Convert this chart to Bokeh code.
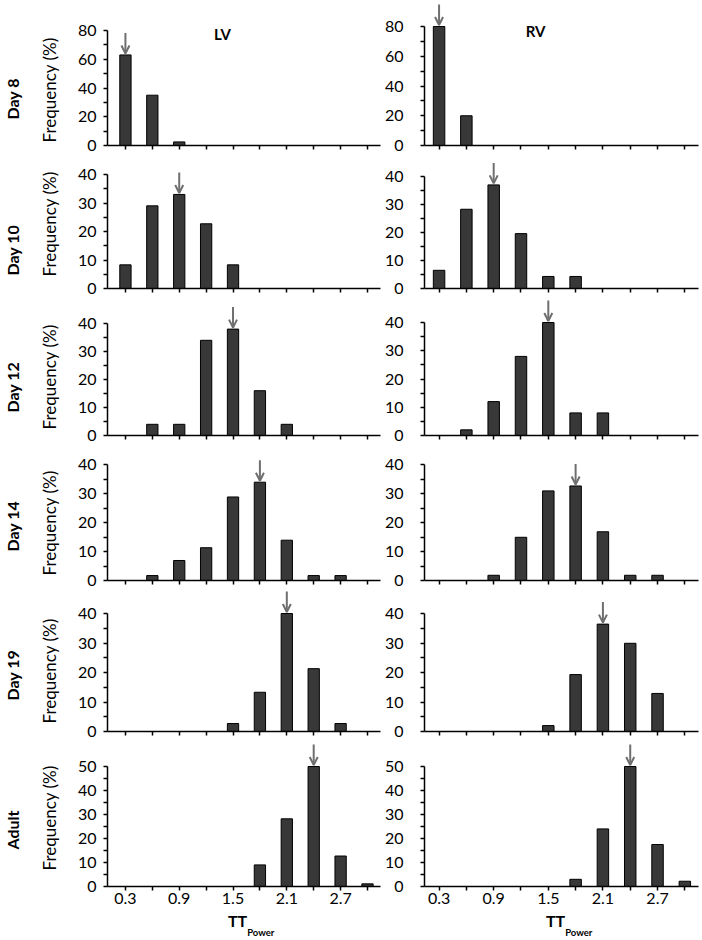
from bokeh.plotting import figure
from bokeh.layouts import column, row
from bokeh.models import Range1d, FixedTicker, ColumnDataSource, Arrow, OpenHead, Label, Title, Div
from bokeh.embed import file_html
from bokeh.resources import INLINE

# ---------------- data ----------------
x_vals = [0.3, 0.6, 0.9, 1.2, 1.5, 1.8, 2.1, 2.4, 2.7, 3.0]
x_labels = {0.3: "0.3", 0.6: "", 0.9: "0.9", 1.2: "", 1.5: "1.5", 1.8: "", 2.1: "2.1", 2.4: "", 2.7: "2.7", 3.0: ""}
row_labels = ["Day 8", "Day 10", "Day 12", "Day 14", "Day 19", "Adult"]
panel_titles = ["LV", "RV"]
y_label = "Frequency (%)"
y_max = [80, 40, 40, 40, 40, 50]

lv_day8 = [63, 35, 2.5, 0, 0, 0, 0, 0, 0, 0]
rv_day8 = [80, 20, 0, 0, 0, 0, 0, 0, 0, 0]
lv_day10 = [8.3, 29, 33, 22.7, 8.3, 0, 0, 0, 0, 0]
rv_day10 = [6.5, 28.3, 37, 19.6, 4.3, 4.3, 0, 0, 0, 0]
lv_day12 = [0, 4, 4, 34, 38, 16, 4, 0, 0, 0]
rv_day12 = [0, 2, 12, 28, 40, 8, 8, 0, 0, 0]
lv_day14 = [0, 1.7, 6.9, 11.3, 28.8, 33.9, 13.9, 1.7, 1.7, 0]
rv_day14 = [0, 0, 1.8, 14.9, 30.9, 32.6, 16.8, 1.8, 1.8, 0]
lv_day19 = [0, 0, 0, 0, 2.7, 13.3, 40, 21.3, 2.7, 0]
rv_day19 = [0, 0, 0, 0, 2, 19.3, 36.4, 29.9, 12.9, 0]
lv_adult = [0, 0, 0, 0, 0, 9, 28.2, 50, 12.7, 1.1]
rv_adult = [0, 0, 0, 0, 0, 3, 24, 50, 17.5, 2.2]

lv_series = [lv_day8, lv_day10, lv_day12, lv_day14, lv_day19, lv_adult]
rv_series = [rv_day8, rv_day10, rv_day12, rv_day14, rv_day19, rv_adult]

# ---------------- layout (pixels) ----------------
FONT = "Lato"
fig_top = [0, 155, 298, 445, 590, 741]      # page y of each row's top
zero_y = [145, 288, 435, 580, 731, 886]     # page y of the x axis
max_y = {True: [30, 174, 323, 464, 613, 766], False: [26, 176, 322, 464, 613, 766]}
bottom_borders = [10, 10, 10, 10, 10, 26]
day_offsets = [26, 13, 23, 29, 31, 37]
freq_offsets = [3, 12, 6, 5, 8, 16]

GEOM = {True: dict(W=381, BL=100, BR=1, XR=(0.10, 3.145)),
        False: dict(W=319, BL=41, BR=2, XR=(0.14, 3.15))}
BAR_W = 0.126
ARROW_COLOR = "#6f6f6f"


def y_ticks(ymax):
    step = 20 if ymax == 80 else 10
    majors = list(range(0, ymax + 1, step))
    minors = [m + step / 2 for m in majors[:-1]]
    return majors, minors


def panel(vals, r, left):
    g = GEOM[left]
    ymax = y_max[r]
    fh = zero_y[r] - fig_top[r]
    per_px = ymax / (zero_y[r] - max_y[left][r])
    p = figure(
        width=g["W"], height=fh + bottom_borders[r],
        x_range=Range1d(*g["XR"]), y_range=Range1d(0, fh * per_px),
        output_backend="svg", toolbar_location=None,
        min_border_left=g["BL"], min_border_right=g["BR"],
        min_border_top=0, min_border_bottom=bottom_borders[r],
    )
    p.outline_line_color = None
    p.xgrid.visible = False
    p.ygrid.visible = False

    src = ColumnDataSource(dict(x=x_vals, top=vals))
    p.vbar(x="x", top="top", width=BAR_W, source=src,
           fill_color="#383838", line_color="black", line_width=1)

    # modal arrow
    i = vals.index(max(vals))
    asrc = ColumnDataSource(dict(x0=[x_vals[i]], y0=[vals[i] + 22 * per_px],
                                 x1=[x_vals[i]], y1=[vals[i] + 1.5 * per_px]))
    p.add_layout(Arrow(x_start="x0", y_start="y0", x_end="x1", y_end="y1", source=asrc,
                       line_color=ARROW_COLOR, line_width=2,
                       end=OpenHead(size=8, line_color=ARROW_COLOR, line_width=2)))

    # x axis
    xa = p.xaxis[0]
    xa.ticker = FixedTicker(ticks=x_vals)
    xa.major_label_overrides = x_labels
    xa.axis_line_width = 1.5
    xa.axis_line_color = "black"
    xa.major_tick_line_width = 1.5
    xa.major_tick_line_color = "black"
    xa.major_tick_in = 0
    xa.major_tick_out = 4
    xa.minor_tick_line_color = None
    xa.major_label_text_font = FONT
    xa.major_label_text_font_size = "16px"
    if r == len(y_max) - 1:
        xa.major_label_text_color = "black"
        xa.major_label_standoff = 2
    else:
        xa.major_label_text_color = None
        xa.major_label_standoff = 0

    # y axis
    ya = p.yaxis[0]
    majors, minors = y_ticks(ymax)
    ya.bounds = (0, ymax)
    ya.ticker = FixedTicker(ticks=majors, minor_ticks=minors)
    ya.axis_line_width = 1.5
    ya.axis_line_color = "black"
    ya.major_tick_line_width = 1.5
    ya.major_tick_line_color = "black"
    ya.minor_tick_line_width = 1.5
    ya.minor_tick_line_color = "black"
    ya.major_tick_in = 0
    ya.major_tick_out = 4
    ya.minor_tick_in = 0
    ya.minor_tick_out = 4
    ya.major_label_text_font = FONT
    ya.major_label_text_font_size = "16px"
    ya.major_label_text_color = "black"
    ya.major_label_standoff = 7 if left else 17
    if left:
        p.add_layout(Title(text=y_label, align="left", offset=freq_offsets[r],
                           vertical_align="bottom", standoff=30,
                           text_font=FONT, text_font_size="17px", text_font_style="normal",
                           text_color="black"), "left")
        p.add_layout(Title(text=row_labels[r], align="left", offset=day_offsets[r],
                           vertical_align="bottom", standoff=0,
                           text_font=FONT, text_font_size="16px", text_font_style="bold",
                           text_color="black"), "left")

    if r == 0:
        lx = 1.383 if left else 1.361
        ly_px = 33 if left else 30
        p.add_layout(Label(x=lx, y=ymax - (ly_px - max_y[left][r]) * per_px,
                           text=panel_titles[0] if left else panel_titles[1],
                           text_font=FONT, text_font_size="15px", text_font_style="bold",
                           text_align="center", text_baseline="middle", text_color="black"))
    return p


def tt_div(width, pad):
    html = ('<div style="padding-left:%dpx; font-family:Lato; font-weight:bold; font-size:16px; '
            'line-height:18px; color:#000; white-space:nowrap;">TT<sub style="font-size:9.5px; '
            'vertical-align:-9px; line-height:0;">Power</sub></div>') % pad
    return Div(text=html, width=width, height=26, margin=0)


rows = []
for r in range(len(y_max)):
    rows.append(row(panel(lv_series[r], r, True), panel(rv_series[r], r, False)))
rows.append(row(tt_div(381, 228), tt_div(319, 165)))

layout = column(*rows)
open("out.html", "w").write(file_html(layout, INLINE))
